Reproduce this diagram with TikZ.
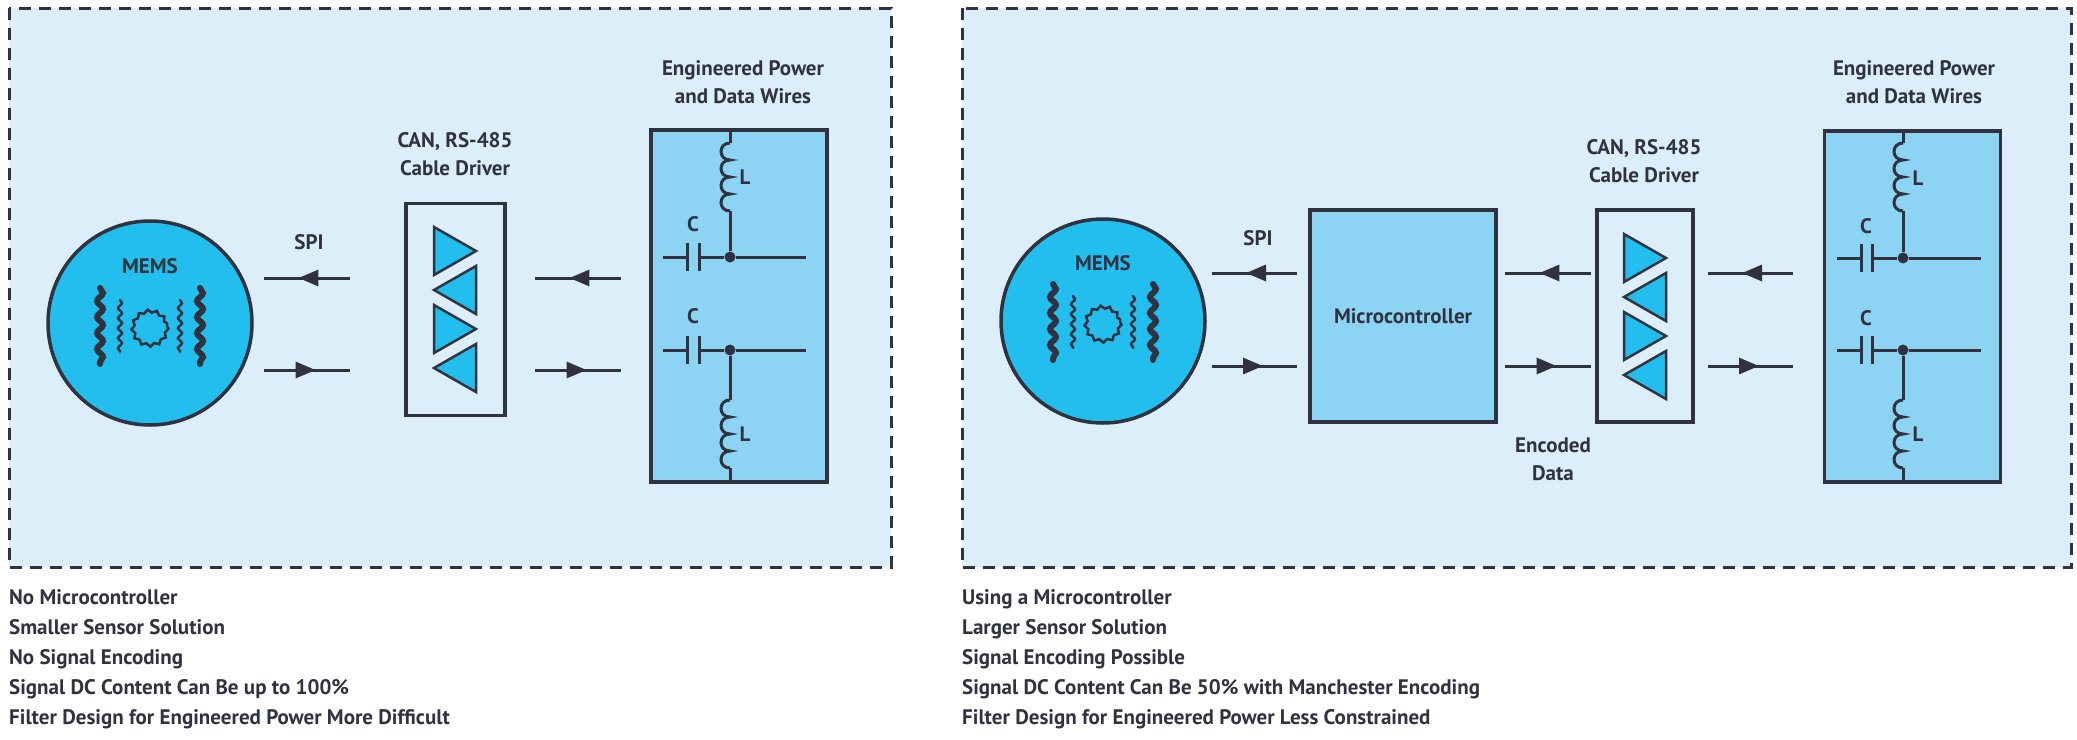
\documentclass[tikz,border=0pt]{standalone}
\usepackage{fontspec}
\setmainfont{PT Sans}
\usetikzlibrary{arrows.meta, decorations.markings, decorations.pathmorphing, positioning}
\definecolor{ink}{HTML}{30333F}
\definecolor{paneBg}{HTML}{DBEEFA}
\definecolor{boxBlue}{HTML}{8DD4F4}
\definecolor{memsBlue}{HTML}{22BFEE}
\tikzset{
  lbl/.style={font=\bfseries\fontsize{21}{28}\selectfont, text=ink, align=center, inner sep=0pt},
  pane/.style={draw=ink, line width=3pt, dash pattern=on 12pt off 8pt, fill=paneBg},
  blk/.style={draw=ink, line width=3.5pt, inner sep=0pt},
  sig/.style={ink, line width=3pt, decoration={markings, mark=at position 0.6 with {\arrow{Triangle[length=20pt,width=16pt]}}}, postaction=decorate},
  tri/.style={draw=ink, line width=2.5pt, fill=memsBlue, line join=miter},
  wire/.style={ink, line width=3pt},
  dot/.style={circle, fill=ink, minimum size=11pt, inner sep=0pt}
}
\newcommand{\memsSym}[2]{% centre x, y
  \begin{scope}[shift={(#1,#2)}, ink, line cap=round]
    \foreach \s in {-1,1} {
      \draw[line width=6pt, decorate, decoration={snake, amplitude=3pt, segment length=16pt}]
        (\s*50,-38) -- (\s*50,38);
      \draw[line width=2.5pt, decorate, decoration={snake, amplitude=2pt, segment length=10pt}]
        (\s*30,-26) -- (\s*30,26);
    }
    \draw[line width=2.5pt, decorate, decoration={snake, amplitude=1.5pt, segment length=8.6pt}]
      (0,0) circle (17);
  \end{scope}}
\newcommand{\coil}[3]{% x, top y, down(1)/up(-1)
  \draw[wire] (#1,#2) \foreach \k in {0,1,2,3} {
    .. controls (#1-12,#2+#3*\k*17) and (#1-12,#2+#3*\k*17+#3*17) .. (#1,#2+#3*\k*17+#3*17)};}
\newcommand{\driverTris}[3]{% centre x, top y, step
  \foreach \i in {0,1,2,3} {
    \pgfmathsetmacro{\ty}{#2+\i*#3}
    \ifodd\i
      \draw[tri] (#1+21,\ty) -- (#1-21,\ty+24) -- (#1+21,\ty+48) -- cycle;
    \else
      \draw[tri] (#1-21,\ty) -- (#1+21,\ty+24) -- (#1-21,\ty+48) -- cycle;
    \fi}}
\begin{document}
\begin{tikzpicture}[x=1pt, y=-1pt]
\useasboundingbox (0,0) rectangle (2077,739);
% panels
\draw[pane] (9,8) rectangle (891,567);
\draw[pane] (962,8) rectangle (2071,567);

% ---- left: no microcontroller
\node[blk, circle, fill=memsBlue, minimum size=204pt] (memsA) at (150,323) {};
\node[lbl] (memsAlbl) at (150,266) {MEMS};
\memsSym{150}{326}
\node[lbl] (spiA) at (309,242) {SPI};
\node[blk, fill=paneBg, minimum width=99pt, minimum height=212pt] (drvA) at (455.5,309.5) {};
\node[lbl] (drvAlbl) at (455,154) {CAN, RS-485\\Cable Driver};
\driverTris{455}{227}{39}
\node[blk, fill=boxBlue, minimum width=176pt, minimum height=352pt] (wireA) at (739,306) {};
\node[lbl] (wireAlbl) at (743,82) {Engineered Power\\and Data Wires};
\coordinate (a1) at (264,278); \coordinate (a2) at (350,278);
\coordinate (a3) at (264,370); \coordinate (a4) at (350,370);
\coordinate (a5) at (535,278); \coordinate (a6) at (621,278);
\coordinate (a7) at (535,370); \coordinate (a8) at (621,370);
\draw[sig] (a2) -- (a1); \draw[sig] (a3) -- (a4);
\draw[sig] (a6) -- (a5); \draw[sig] (a7) -- (a8);
% filter
\node[dot] (nA1) at (730,257) {};
\node[dot] (nA2) at (730,350) {};
\draw[wire] (wireA.north -| nA1) -- (730,143);
\coil{730}{143}{1}
\draw[wire] (730,211) -- (nA1);
\draw[wire] (663,257) -- (687,257) (699,257) -- (nA1) -- (806,257);
\draw[wire] (687,243) -- (687,271) (699,243) -- (699,271);
\draw[wire] (663,350) -- (687,350) (699,350) -- (nA2) -- (806,350);
\draw[wire] (687,336) -- (687,364) (699,336) -- (699,364);
\draw[wire] (nA2) -- (730,400);
\coil{730}{400}{1}
\draw[wire] (730,468) -- (wireA.south -| nA2);
\node[lbl] (cA1) at (693,224) {C};
\node[lbl] (cA2) at (693,316) {C};
\node[lbl] (lA1) at (745,177) {L};
\node[lbl] (lA2) at (745,434) {L};

% ---- right: with microcontroller
\node[blk, circle, fill=memsBlue, minimum size=204pt] (memsB) at (1103,321) {};
\node[lbl] (memsBlbl) at (1103,263) {MEMS};
\memsSym{1103}{322}
\node[lbl] (spiB) at (1258,238) {SPI};
\node[blk, fill=boxBlue, minimum width=186pt, minimum height=212pt] (mcu) at (1403,316) {};
\node[lbl] at (mcu) {Microcontroller};
\node[blk, fill=paneBg, minimum width=96pt, minimum height=212pt] (drvB) at (1645,316) {};
\node[lbl] (drvBlbl) at (1644,161) {CAN, RS-485\\Cable Driver};
\driverTris{1645}{234}{39}
\node[lbl] (encB) at (1553,459) {Encoded\\Data};
\node[blk, fill=boxBlue, minimum width=176pt, minimum height=351pt] (wireB) at (1912.5,306.5) {};
\node[lbl] (wireBlbl) at (1914,82) {Engineered Power\\and Data Wires};
\coordinate (b1) at (1212,273); \coordinate (b2) at (1297,273);
\coordinate (b3) at (1212,366); \coordinate (b4) at (1297,366);
\coordinate (b5) at (1505,273); \coordinate (b6) at (1591,273);
\coordinate (b7) at (1505,366); \coordinate (b8) at (1591,366);
\coordinate (b9) at (1708,273); \coordinate (b10) at (1793,273);
\coordinate (b11) at (1708,366); \coordinate (b12) at (1793,366);
\draw[sig] (b2) -- (b1); \draw[sig] (b3) -- (b4);
\draw[sig] (b6) -- (b5); \draw[sig] (b7) -- (b8);
\draw[sig] (b10) -- (b9); \draw[sig] (b11) -- (b12);
% filter
\node[dot] (nB1) at (1903,258) {};
\node[dot] (nB2) at (1903,350) {};
\draw[wire] (wireB.north -| nB1) -- (1903,143);
\coil{1903}{143}{1}
\draw[wire] (1903,211) -- (nB1);
\draw[wire] (1837,258) -- (1861,258) (1872,258) -- (nB1) -- (1981,258);
\draw[wire] (1861,244) -- (1861,272) (1872,244) -- (1872,272);
\draw[wire] (1837,350) -- (1861,350) (1872,350) -- (nB2) -- (1981,350);
\draw[wire] (1861,336) -- (1861,364) (1872,336) -- (1872,364);
\draw[wire] (nB2) -- (1903,400);
\coil{1903}{400}{1}
\draw[wire] (1903,468) -- (wireB.south -| nB2);
\node[lbl] (cB1) at (1866,226) {C};
\node[lbl] (cB2) at (1866,318) {C};
\node[lbl] (lB1) at (1918,178) {L};
\node[lbl] (lB2) at (1918,434) {L};

% ---- notes
\node[lbl, align=left, anchor=north west, font=\bfseries\fontsize{21}{30}\selectfont] (noteA) at (9,589)
  {No Microcontroller\\Smaller Sensor Solution\\No Signal Encoding\\Signal DC Content Can Be up to 100\%\\Filter Design for Engineered Power More Difficult};
\node[lbl, align=left, anchor=north west, font=\bfseries\fontsize{21}{30}\selectfont] (noteB) at (962,589)
  {Using a Microcontroller\\Larger Sensor Solution\\Signal Encoding Possible\\Signal DC Content Can Be 50\% with Manchester Encoding\\Filter Design for Engineered Power Less Constrained};
\end{tikzpicture}
\end{document}
